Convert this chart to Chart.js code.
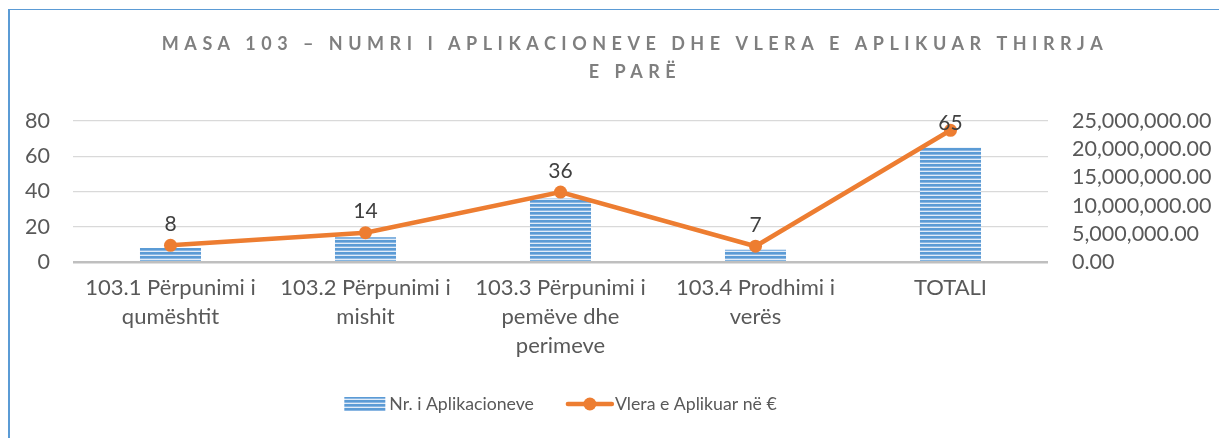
<!DOCTYPE html>
<html><head><meta charset="utf-8">
<script src="https://cdn.jsdelivr.net/npm/chart.js@4.4.0/dist/chart.umd.min.js"></script>
<style>
html,body{margin:0;padding:0;background:#fff;overflow:hidden;}
#wrap{position:relative;width:1219px;height:438px;overflow:hidden;}
#frame{position:absolute;left:8px;top:9px;width:3000px;height:3000px;border-left:2px solid #5b9bd5;border-top:1px solid #5b9bd5;pointer-events:none;}
canvas{position:absolute;left:0;top:0;}
</style></head><body>
<div id="wrap"><canvas id="c" width="1219" height="438"></canvas><div id="frame"></div></div>
<script>
const titleLines = ['MASA 103 – NUMRI I APLIKACIONEVE DHE VLERA E APLIKUAR THIRRJA', 'E PARË'];
const categories = [
  ['103.1 Përpunimi i', 'qumështit'],
  ['103.2 Përpunimi i', 'mishit'],
  ['103.3 Përpunimi i', 'pemëve dhe', 'perimeve'],
  ['103.4 Prodhimi i', 'verës'],
  'TOTALI'
];
const seriesNames = ['Nr. i Aplikacioneve', 'Vlera e Aplikuar në €'];
const applications = [8, 14, 36, 7, 65];
const appliedValues = [2950000, 5200000, 12400000, 2800000, 23350000];
const leftAxis = { min: 0, max: 80, step: 20 };
const rightAxis = { min: 0, max: 25000000, step: 5000000 };

const canvas = document.getElementById('c');
const ctx = canvas.getContext('2d');

function stripePattern(c2d) {
  const c = document.createElement('canvas');
  c.width = 8; c.height = 4;
  const x = c.getContext('2d');
  x.fillStyle = '#e1ecf8'; x.fillRect(0, 0, 8, 4);
  x.fillStyle = '#5b9bd5'; x.fillRect(0, 0, 8, 2);
  x.fillStyle = '#8ab6e2'; x.fillRect(0, 2, 8, 1);
  return c2d.createPattern(c, 'repeat');
}
const stripes = stripePattern(ctx);
const FONT = 'Lato, "Open Sans", sans-serif';
const TXT = '#595959';
const ORANGE = '#ed7d31';

const customDraw = {
  id: 'customDraw',
  afterDatasetsDraw(chart) {
    const c = chart.ctx;
    const meta = chart.getDatasetMeta(1);
    c.save();
    c.font = '21px ' + FONT;
    c.fillStyle = '#404040';
    c.textAlign = 'center';
    c.textBaseline = 'middle';
    meta.data.forEach((pt, i) => {
      const y = Math.max(pt.y - 21, chart.chartArea.top + 2);
      c.fillText(String(applications[i]), pt.x, y);
    });
    c.restore();
  },
  afterDraw(chart) {
    const c = chart.ctx;
    c.save();
    // title
    c.font = 'bold 18px ' + FONT;
    c.fillStyle = '#7f7f7f';
    c.textAlign = 'center';
    c.textBaseline = 'middle';
    try { c.letterSpacing = '5.5px'; } catch (e) {}
    titleLines.forEach((t, i) => c.fillText(t, 635, 44 + i * 28));
    try { c.letterSpacing = '0px'; } catch (e) {}
    // legend
    c.font = '17.7px ' + FONT;
    c.fillStyle = TXT;
    c.textAlign = 'left';
    const ly = 404;
    const t1 = chart.data.datasets[0].label, t2 = chart.data.datasets[1].label;
    const w1 = 41 + 4 + c.measureText(t1).width;
    const w2 = 46 + 2 + c.measureText(t2).width;
    const gap = 33;
    const cx = (chart.chartArea.left + chart.chartArea.right) / 2;
    let x = cx - (w1 + gap + w2) / 2;
    c.fillStyle = stripes;
    c.fillRect(x, ly - 7, 41, 14);
    c.fillStyle = TXT;
    c.fillText(t1, x + 45, ly);
    x += w1 + gap;
    c.strokeStyle = ORANGE; c.lineWidth = 4.5; c.lineCap = 'round';
    c.beginPath(); c.moveTo(x + 1, ly); c.lineTo(x + 45, ly); c.stroke();
    c.fillStyle = ORANGE;
    c.beginPath(); c.arc(x + 23, ly, 6.5, 0, Math.PI * 2); c.fill();
    c.fillStyle = TXT;
    c.fillText(t2, x + 48, ly);
    c.restore();
  }
};

new Chart(ctx, {
  data: {
    labels: categories,
    datasets: [
      {
        type: 'bar', label: seriesNames[0], data: applications, yAxisID: 'y',
        backgroundColor: stripes, borderWidth: 0,
        categoryPercentage: 1, barPercentage: 0.313, order: 2
      },
      {
        type: 'line', label: seriesNames[1], data: appliedValues, yAxisID: 'y1',
        borderColor: ORANGE, borderWidth: 4.5, backgroundColor: ORANGE,
        pointRadius: 6.5, pointBackgroundColor: ORANGE, pointBorderWidth: 0,
        tension: 0, fill: false, order: 1
      }
    ]
  },
  options: {
    responsive: false, animation: false, devicePixelRatio: 1,
    layout: { padding: { top: 121, bottom: 0, left: 0, right: 0 } },
    plugins: { legend: { display: false }, title: { display: false }, tooltip: { enabled: false } },
    scales: {
      x: {
        grid: { display: false, drawTicks: false }, border: { display: false },
        ticks: { autoSkip: false, maxRotation: 0, minRotation: 0, padding: 12, color: TXT,
                 font: { family: FONT, size: 22, lineHeight: 1.3 } },
        afterFit(s) { s.height = 438 - 262; }
      },
      y: {
        position: 'left', min: leftAxis.min, max: leftAxis.max,
        ticks: { stepSize: leftAxis.step, autoSkip: false, padding: 23, color: TXT, font: { family: FONT, size: 21.5 } },
        grid: {
          drawTicks: false,
          color: (c) => c.tick && c.tick.value === 0 ? '#bfbfbf' : '#d9d9d9',
          lineWidth: (c) => c.tick && c.tick.value === 0 ? 2.5 : 1.3
        },
        border: { display: false },
        afterFit(s) { s.width = 73; }
      },
      y1: {
        position: 'right', min: rightAxis.min, max: rightAxis.max,
        ticks: { stepSize: rightAxis.step, autoSkip: false, padding: 24, color: TXT, font: { family: FONT, size: 21.5 },
                 callback: (v) => Number(v).toLocaleString('en-US', { minimumFractionDigits: 2, maximumFractionDigits: 2 }) },
        grid: { display: false, drawTicks: false }, border: { display: false },
        afterFit(s) { s.width = 1219 - 1048; }
      }
    }
  },
  plugins: [customDraw]
});
</script>
</body></html>
